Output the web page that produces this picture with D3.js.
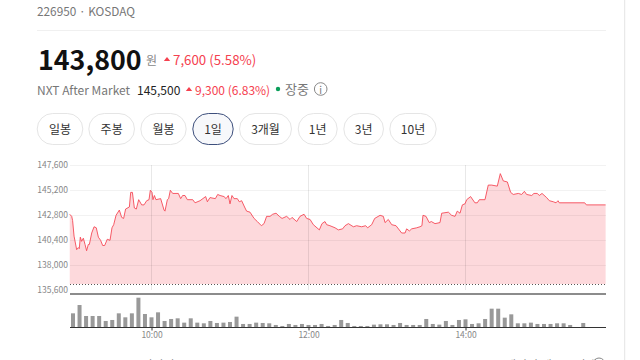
<!DOCTYPE html>
<html><head><meta charset="utf-8">
<style>html,body{margin:0;padding:0;background:#fff;overflow:hidden}svg{display:block}text{font-family:"Noto Sans CJK KR","Noto Sans",sans-serif}</style>
<script src="https://cdn.jsdelivr.net/npm/d3@7/dist/d3.min.js"></script>
</head><body><svg id="c" width="640" height="360"></svg>
<script>
const priceMinutes=[-2.5,-1,-.3,.8,2.8,4.1,4.8,5.6,6.6,7.9,9.2,10.4,11.7,12.5,14.3,16.1,17.8,19.4,21.1,22.7,24.2,26.2,28.3,29.8,31.1,32.9,35.4,37.2,38.7,40.2,43.1,44.1,45.4,46.9,48.4,50.2,52.5,54.3,56.3,58.1,59.1,60.4,61.1,62.2,63.4,67,69.6,70.3,72.1,73.1,74.4,76.2,80.5,82.3,83.8,85.6,87.4,91.5,93.3,97.1,101.4,102.7,104.7,108.8,110.6,112.4,115.4,117,118.7,120,121.5,123.1,125.6,127.1,128.9,131.5,132.7,135.3,138.4,140.9,144,146,148,150.6,152.6,155.2,157.7,159.8,163.3,165.9,167.4,171,173.5,176.6,178.6,181.2,183.7,188.3,190.3,192.6,193.9,196.4,200.3,202.8,206.1,207.9,210.5,214.3,216.8,220.6,223.7,225.2,228.3,230.6,234.7,237.2,238.5,241,243.6,246.9,251.2,253.8,255,257.1,258.9,262.7,265.2,266.7,267.5,269.8,272.3,273.9,276.7,280.5,281.8,286.9,289.4,292,293.7,295.8,297.6,299.6,300.9,303.9,307.2,309,310.6,314.9,317.4,320,324.3,326.6,328.9,332,334.5,336.5,340.4,342.9,345,346.7,350.6,352.3,354.9,356.4,358.5,362,364.1,367.1,369.2,370.7,371.7,391.1,392.4,407.1];
const prices=[142900,142700,142300,140800,139500,139700,139600,140700,140300,140600,140000,139400,140000,140000,141100,141700,141600,140700,140400,139900,139900,140500,140400,141600,141900,142800,143300,142600,142500,143400,143600,145000,145000,143500,143400,144300,143800,143800,144200,144300,145200,145000,144300,144700,144300,144400,143300,143200,144300,144400,145200,144900,144900,144400,144700,144700,144300,144300,144000,144200,144600,144100,144500,144400,144800,144700,144600,144400,144700,143900,144700,144400,144400,144100,144200,143500,143200,143100,142500,142200,141800,142000,142700,142700,142900,143000,142700,142500,142700,142400,142600,142200,142700,142900,142500,142400,141900,141400,142000,142200,141900,141800,141600,141400,141500,141800,142000,141700,141800,141700,141800,141600,141900,142500,142800,142700,142100,142400,141900,141800,141100,141100,141500,141300,141500,141600,141700,141800,142800,142700,142100,142200,142000,142100,143000,143100,142800,142700,143200,143000,143800,143900,144300,144600,144000,144000,144300,144300,145700,145700,145600,146800,146100,146000,145000,144800,144900,144800,145100,144800,144700,144900,144900,144700,144900,144500,144200,144100,144000,144200,144000,144000,143800,143800];
const volumes=[4200,6700,3400,3400,3400,1900,2200,4200,3000,4200,8900,4000,3000,4500,1900,2500,2700,1400,2700,1400,1200,1900,1300,1400,1600,3200,1000,1000,1400,1300,1200,700,400,1000,700,1000,700,700,1000,400,700,2200,1300,400,400,400,800,900,900,700,1300,700,700,700,2500,1000,800,1900,700,2200,2400,1000,1200,2500,5600,5600,2900,3900,1200,1200,1400,1000,1000,1000,1200,1200,700,0,1300];
const priceTicks=[147600,145200,142800,140400,138000,135600];
const timeTicks=[60,180,300];
const timeLabels=["10:00","12:00","14:00"];
const prevClose=136200;
const rangeButtons=["일봉","주봉","월봉","1일","3개월","1년","3년","10년"];
const buttonEdges=[[36.7,83.3],[88.3,135],[140.3,186.7],[192.3,233.7],[239,292],[297.7,337.7],[343.3,384],[389.3,436.7]];

const svg=d3.select("#c");
const x=d3.scaleLinear().domain([0,60]).range([73,151.5]);
const y=d3.scaleLinear().domain([135600,147600]).range([290.3,165.3]);
const v=d3.scaleLinear().domain([0,8900]).range([327.3,297.7]);
const RED="#f5414f",GRAY="#777";
function T(s,tx,ty,size,fill,weight,anchor){return svg.append("text").attr("x",tx).attr("y",ty).attr("font-size",size).attr("fill",fill).attr("font-weight",weight||400).attr("text-anchor",anchor||"start").attr("dominant-baseline","central").text(s);}
function tri(cx,cy){svg.append("path").attr("d","M"+(cx-3.2)+","+(cy+2)+"L"+cx+","+(cy-2)+"L"+(cx+3.2)+","+(cy+2)+"Z").attr("fill",RED);}

// frame
svg.append("line").attr("x1",624.7).attr("x2",624.7).attr("y1",0).attr("y2",360).attr("stroke","#e4e4e4");
svg.append("line").attr("x1",37).attr("x2",606).attr("y1",30.5).attr("y2",30.5).attr("stroke","#f0f0f0");

// header
T("226950 · KOSDAQ",37,10,11.8,GRAY);
T("143,800",38,58,26.8,"#111",700);
T("원",146,59,12,"#888");
tri(167,59);
T("7,600 (5.58%)",173,59,13.3,RED);
T("NXT After Market",37,89,12,GRAY);
T("145,500",137,89,12,"#222");
tri(189,89);
T("9,300 (6.83%)",195,89,12,RED);
svg.append("circle").attr("cx",278).attr("cy",89).attr("r",2.2).attr("fill","#0a9e5a");
T("장중",285,88,13,GRAY);
svg.append("circle").attr("cx",320.7).attr("cy",89).attr("r",6.3).attr("fill","none").attr("stroke","#888");
T("i",320.7,89,10,"#777",400,"middle");

// range buttons
rangeButtons.forEach((b,i)=>{
  const [a,e]=buttonEdges[i],sel=b==="1일";
  svg.append("rect").attr("x",a+.5).attr("y",113.5).attr("width",e-a-1).attr("height",31).attr("rx",15.5)
    .attr("fill",sel?"#f7f8fb":"#fff").attr("stroke",sel?"#3d4f7c":"#e5e5e5");
  T(b,(a+e)/2,128.5,12,"#333",400,"middle");
});

// price axis + grid
const yAxis=d3.axisLeft(y).tickValues(priceTicks).tickSize(0).tickPadding(2).tickFormat(d3.format(","));
const yg=svg.append("g").attr("transform","translate(70,-0.7)").call(yAxis);
yg.select(".domain").remove();
yg.selectAll("text").attr("font-size",8.5).attr("fill","#888");

const series=priceMinutes.map((m,i)=>({m,p:prices[i]}));
const area=d3.area().x(d=>x(d.m)).y0(y(prevClose)).y1(d=>y(d.p));
const line=d3.line().x(d=>x(d.m)).y(d=>y(d.p));
svg.append("path").datum(series).attr("d",area).attr("fill","#fdd9dc");

svg.append("g").selectAll("line").data(priceTicks.slice(0,-1)).join("line")
  .attr("x1",70).attr("x2",606).attr("y1",d=>Math.floor(y(d))+.5).attr("y2",d=>Math.floor(y(d))+.5)
  .attr("stroke","rgba(0,0,0,0.05)");
svg.append("g").selectAll("line").data(timeTicks).join("line")
  .attr("x1",d=>Math.floor(x(d))+.5).attr("x2",d=>Math.floor(x(d))+.5).attr("y1",165).attr("y2",290)
  .attr("stroke","rgba(0,0,0,0.09)");

svg.append("path").datum(series).attr("d",line).attr("fill","none").attr("stroke",RED).attr("stroke-width",1).attr("stroke-opacity",.85);

svg.append("line").attr("x1",70).attr("x2",606).attr("y1",Math.floor(y(prevClose))+.5).attr("y2",Math.floor(y(prevClose))+.5)
  .attr("stroke","#555").attr("stroke-dasharray","1,2");
svg.append("line").attr("x1",70).attr("x2",606).attr("y1",294).attr("y2",294).attr("stroke","#666").attr("stroke-width",1.6);

// volume
svg.append("g").selectAll("rect").data(volumes).join("rect")
  .attr("x",(d,i)=>x(i*5)-2).attr("width",4).attr("y",d=>v(d)).attr("height",d=>v(0)-v(d)).attr("fill","#999");
const xAxis=d3.axisBottom(x).tickValues(timeTicks).tickSize(3).tickPadding(1.5).tickFormat((d,i)=>timeLabels[i]);
const xg=svg.append("g").attr("transform","translate(0,327.5)").call(xAxis);
xg.select(".domain").remove();
xg.selectAll("line").attr("stroke","#333");
xg.selectAll("text").attr("font-size",8.5).attr("fill","#888");
svg.append("line").attr("x1",70).attr("x2",606).attr("y1",327.5).attr("y2",327.5).attr("stroke","#333");

// clipped footer
T("KRX 02.24. 15:30",37,364,12,GRAY);
T("장마감",142,364,12,GRAY);
T("데이터 제공 · 안내",505,364,12,GRAY);
svg.append("circle").attr("cx",599).attr("cy",364).attr("r",6).attr("fill","none").attr("stroke","#888");
</script></body></html>
